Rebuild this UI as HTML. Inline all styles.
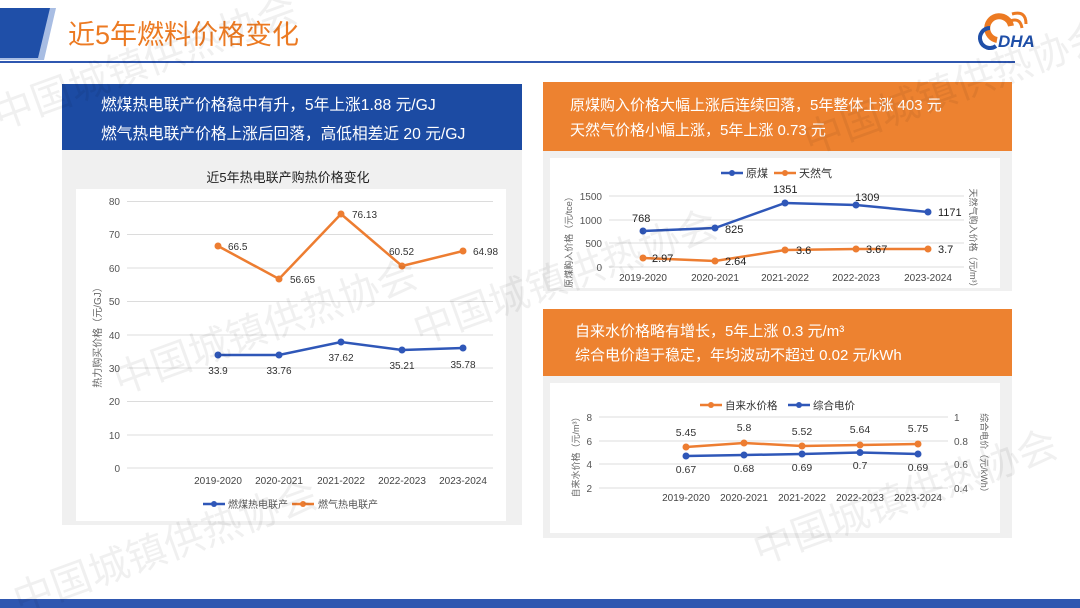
<!DOCTYPE html>
<html><head><meta charset="utf-8"><style>
body{margin:0;width:1080px;height:608px;overflow:hidden;background:#fff;font-family:"Liberation Sans","Noto Sans CJK SC",sans-serif}
svg{display:block}
</style></head><body>
<svg width="1080" height="608" viewBox="0 0 1080 608" font-family="Liberation Sans, Noto Sans CJK SC, sans-serif">
<!-- header -->
<polygon points="0,8 56,8 44,60 0,60" fill="#a8bde3"/>
<polygon points="0,8 50,8 38,58 0,58" fill="#1f4fa8"/>
<text x="68" y="44" font-size="27" fill="#ec7a22">近5年燃料价格变化</text>
<rect x="0" y="61" width="1015" height="2" fill="#2f57b0"/>
<!-- logo -->
<path d="M997,40 a12,12 0 1 1 14,-14" stroke="#ec7a22" stroke-width="6" fill="none"/>
<path d="M1008,22 q12,-6 14,6 M1012,14 q14,-4 14,10" stroke="#ec7a22" stroke-width="3" fill="none"/>
<text x="998" y="47" font-size="17" font-weight="bold" font-style="italic" fill="#1f4fa8">DHA</text>
<path d="M990,28 a10,10 0 1 0 6,18" stroke="#1f4fa8" stroke-width="4" fill="none"/>
<!-- bottom band -->
<rect x="0" y="599" width="1080" height="9" fill="#2f57b0"/>

<!-- left panel -->
<rect x="62" y="150" width="460" height="375" fill="#f0f0f0"/>
<rect x="76" y="189" width="430" height="332" fill="#fff"/>
<rect x="62" y="84" width="460" height="66" fill="#1c4ba3"/>
<text x="101" y="110" font-size="15.7" fill="#fff">燃煤热电联产价格稳中有升，5年上涨1.88 元/GJ</text>
<text x="101" y="139" font-size="15.7" fill="#fff">燃气热电联产价格上涨后回落，高低相差近 20 元/GJ</text>
<text x="288" y="182" font-size="13" fill="#222" text-anchor="middle">近5年热电联产购热价格变化</text>
<g stroke="#dcdcdc" stroke-width="1">
<line x1="127" x2="493" y1="201.5" y2="201.5"/><line x1="127" x2="493" y1="234.5" y2="234.5"/><line x1="127" x2="493" y1="268" y2="268"/><line x1="127" x2="493" y1="301.5" y2="301.5"/><line x1="127" x2="493" y1="335" y2="335"/><line x1="127" x2="493" y1="368" y2="368"/><line x1="127" x2="493" y1="401.5" y2="401.5"/><line x1="127" x2="493" y1="435" y2="435"/><line x1="127" x2="493" y1="468" y2="468"/>
</g>
<g font-size="10" fill="#555" text-anchor="end">
<text x="120" y="205">80</text><text x="120" y="238">70</text><text x="120" y="272">60</text><text x="120" y="305">50</text><text x="120" y="339">40</text><text x="120" y="372">30</text><text x="120" y="405">20</text><text x="120" y="439">10</text><text x="120" y="472">0</text>
</g>
<text transform="translate(101,335) rotate(-90)" font-size="10" fill="#666" text-anchor="middle">热力购买价格（元/GJ）</text>
<g font-size="10" fill="#444" text-anchor="middle">
<text x="218" y="484">2019-2020</text><text x="279" y="484">2020-2021</text><text x="341" y="484">2021-2022</text><text x="402" y="484">2022-2023</text><text x="463" y="484">2023-2024</text>
</g>
<polyline points="218,246 279,279 341,214 402,266 463,251" fill="none" stroke="#ed7d31" stroke-width="2.5"/>
<g fill="#ed7d31"><circle cx="218" cy="246" r="3.5"/><circle cx="279" cy="279" r="3.5"/><circle cx="341" cy="214" r="3.5"/><circle cx="402" cy="266" r="3.5"/><circle cx="463" cy="251" r="3.5"/></g>
<polyline points="218,355 279,355 341,342 402,350 463,348" fill="none" stroke="#2f57b8" stroke-width="2.5"/>
<g fill="#2f57b8"><circle cx="218" cy="355" r="3.5"/><circle cx="279" cy="355" r="3.5"/><circle cx="341" cy="342" r="3.5"/><circle cx="402" cy="350" r="3.5"/><circle cx="463" cy="348" r="3.5"/></g>
<g font-size="10" fill="#333">
<text x="228" y="250">66.5</text><text x="290" y="283">56.65</text><text x="352" y="218">76.13</text><text x="389" y="255">60.52</text><text x="473" y="255">64.98</text>
</g>
<g font-size="10" fill="#333" text-anchor="middle">
<text x="218" y="374">33.9</text><text x="279" y="374">33.76</text><text x="341" y="361">37.62</text><text x="402" y="369">35.21</text><text x="463" y="368">35.78</text>
</g>
<line x1="203" x2="225" y1="504" y2="504" stroke="#2f57b8" stroke-width="2.5"/><circle cx="214" cy="504" r="3" fill="#2f57b8"/>
<text x="228" y="508" font-size="10" fill="#555">燃煤热电联产</text>
<line x1="292" x2="314" y1="504" y2="504" stroke="#ed7d31" stroke-width="2.5"/><circle cx="303" cy="504" r="3" fill="#ed7d31"/>
<text x="318" y="508" font-size="10" fill="#555">燃气热电联产</text>

<!-- top right -->
<rect x="543" y="151" width="469" height="140" fill="#f0f0f0"/>
<rect x="550" y="158" width="450" height="130" fill="#fff"/>
<rect x="543" y="82" width="469" height="69" fill="#ed8230"/>
<text x="570" y="110" font-size="15" fill="#fff">原煤购入价格大幅上涨后连续回落，5年整体上涨 403 元</text>
<text x="570" y="135" font-size="15" fill="#fff">天然气价格小幅上涨，5年上涨 0.73 元</text>
<line x1="721" x2="743" y1="173" y2="173" stroke="#2f57b8" stroke-width="2.5"/><circle cx="732" cy="173" r="3" fill="#2f57b8"/>
<text x="746" y="177" font-size="11" fill="#333">原煤</text>
<line x1="774" x2="796" y1="173" y2="173" stroke="#ed7d31" stroke-width="2.5"/><circle cx="785" cy="173" r="3" fill="#ed7d31"/>
<text x="799" y="177" font-size="11" fill="#333">天然气</text>
<g stroke="#dcdcdc"><line x1="609" x2="964" y1="196" y2="196"/><line x1="609" x2="964" y1="220" y2="220"/><line x1="609" x2="964" y1="243" y2="243"/><line x1="609" x2="964" y1="267" y2="267"/></g>
<g font-size="10" fill="#555" text-anchor="end"><text x="602" y="200">1500</text><text x="602" y="224">1000</text><text x="602" y="247">500</text><text x="602" y="271">0</text></g>
<text transform="translate(572,240) rotate(-90)" font-size="9" fill="#666" text-anchor="middle">原煤购入价格（元/tce）</text>
<text transform="translate(970,240) rotate(90)" font-size="9" fill="#666" text-anchor="middle">天然气购入价格（元/m³）</text>
<g font-size="10" fill="#444" text-anchor="middle"><text x="643" y="281">2019-2020</text><text x="715" y="281">2020-2021</text><text x="785" y="281">2021-2022</text><text x="856" y="281">2022-2023</text><text x="928" y="281">2023-2024</text></g>
<polyline points="643,231 715,228 785,203 856,205 928,212" fill="none" stroke="#2f57b8" stroke-width="2.5"/>
<g fill="#2f57b8"><circle cx="643" cy="231" r="3.5"/><circle cx="715" cy="228" r="3.5"/><circle cx="785" cy="203" r="3.5"/><circle cx="856" cy="205" r="3.5"/><circle cx="928" cy="212" r="3.5"/></g>
<polyline points="643,258 715,261 785,250 856,249 928,249" fill="none" stroke="#ed7d31" stroke-width="2.5"/>
<g fill="#ed7d31"><circle cx="643" cy="258" r="3.5"/><circle cx="715" cy="261" r="3.5"/><circle cx="785" cy="250" r="3.5"/><circle cx="856" cy="249" r="3.5"/><circle cx="928" cy="249" r="3.5"/></g>
<g font-size="11" fill="#222"><text x="632" y="222">768</text><text x="725" y="233">825</text><text x="773" y="193">1351</text><text x="855" y="201">1309</text><text x="938" y="216">1171</text>
<text x="652" y="262">2.97</text><text x="725" y="265">2.64</text><text x="796" y="254">3.6</text><text x="866" y="253">3.67</text><text x="938" y="253">3.7</text></g>

<!-- bottom right -->
<rect x="543" y="376" width="469" height="162" fill="#f0f0f0"/>
<rect x="550" y="383" width="450" height="150" fill="#fff"/>
<rect x="543" y="309" width="469" height="67" fill="#ed8230"/>
<text x="575" y="336" font-size="15" fill="#fff">自来水价格略有增长，5年上涨 0.3 元/m³</text>
<text x="575" y="360" font-size="15" fill="#fff">综合电价趋于稳定，年均波动不超过 0.02 元/kWh</text>
<line x1="700" x2="722" y1="405" y2="405" stroke="#ed7d31" stroke-width="2.5"/><circle cx="711" cy="405" r="3" fill="#ed7d31"/>
<text x="725" y="409" font-size="10.5" fill="#333">自来水价格</text>
<line x1="788" x2="810" y1="405" y2="405" stroke="#2f57b8" stroke-width="2.5"/><circle cx="799" cy="405" r="3" fill="#2f57b8"/>
<text x="813" y="409" font-size="10.5" fill="#333">综合电价</text>
<g stroke="#dcdcdc"><line x1="599" x2="948" y1="417" y2="417"/><line x1="599" x2="948" y1="441" y2="441"/><line x1="599" x2="948" y1="464" y2="464"/><line x1="599" x2="948" y1="488" y2="488"/></g>
<g font-size="10" fill="#555" text-anchor="end"><text x="592" y="421">8</text><text x="592" y="445">6</text><text x="592" y="468">4</text><text x="592" y="492">2</text></g>
<g font-size="10" fill="#555"><text x="954" y="421">1</text><text x="954" y="445">0.8</text><text x="954" y="468">0.6</text><text x="954" y="492">0.4</text></g>
<text transform="translate(579,455) rotate(-90)" font-size="9" fill="#666" text-anchor="middle">自来水价格（元/m³）</text>
<text transform="translate(981,455) rotate(90)" font-size="9" fill="#666" text-anchor="middle">综合电价（元/kWh）</text>
<g font-size="10" fill="#444" text-anchor="middle"><text x="686" y="501">2019-2020</text><text x="744" y="501">2020-2021</text><text x="802" y="501">2021-2022</text><text x="860" y="501">2022-2023</text><text x="918" y="501">2023-2024</text></g>
<polyline points="686,447 744,443 802,446 860,445 918,444" fill="none" stroke="#ed7d31" stroke-width="2.5"/>
<g fill="#ed7d31"><circle cx="686" cy="447" r="3.5"/><circle cx="744" cy="443" r="3.5"/><circle cx="802" cy="446" r="3.5"/><circle cx="860" cy="445" r="3.5"/><circle cx="918" cy="444" r="3.5"/></g>
<polyline points="686,456 744,455 802,454 860,452.5 918,454" fill="none" stroke="#2f57b8" stroke-width="2.5"/>
<g fill="#2f57b8"><circle cx="686" cy="456" r="3.5"/><circle cx="744" cy="455" r="3.5"/><circle cx="802" cy="454" r="3.5"/><circle cx="860" cy="452.5" r="3.5"/><circle cx="918" cy="454" r="3.5"/></g>
<g font-size="10.5" fill="#333" text-anchor="middle"><text x="686" y="436">5.45</text><text x="744" y="431">5.8</text><text x="802" y="435">5.52</text><text x="860" y="433">5.64</text><text x="918" y="432">5.75</text>
<text x="686" y="473">0.67</text><text x="744" y="472">0.68</text><text x="802" y="471">0.69</text><text x="860" y="469">0.7</text><text x="918" y="471">0.69</text></g>

<!-- watermarks -->
<g font-size="40" fill="#000" fill-opacity="0.06" text-anchor="middle">
<text transform="translate(150,75) rotate(-20)">中国城镇供热协会</text>
<text transform="translate(270,340) rotate(-20)">中国城镇供热协会</text>
<text transform="translate(570,290) rotate(-20)">中国城镇供热协会</text>
<text transform="translate(960,100) rotate(-20)">中国城镇供热协会</text>
<text transform="translate(170,560) rotate(-20)">中国城镇供热协会</text>
<text transform="translate(910,510) rotate(-20)">中国城镇供热协会</text>
</g>
</svg>
</body></html>
